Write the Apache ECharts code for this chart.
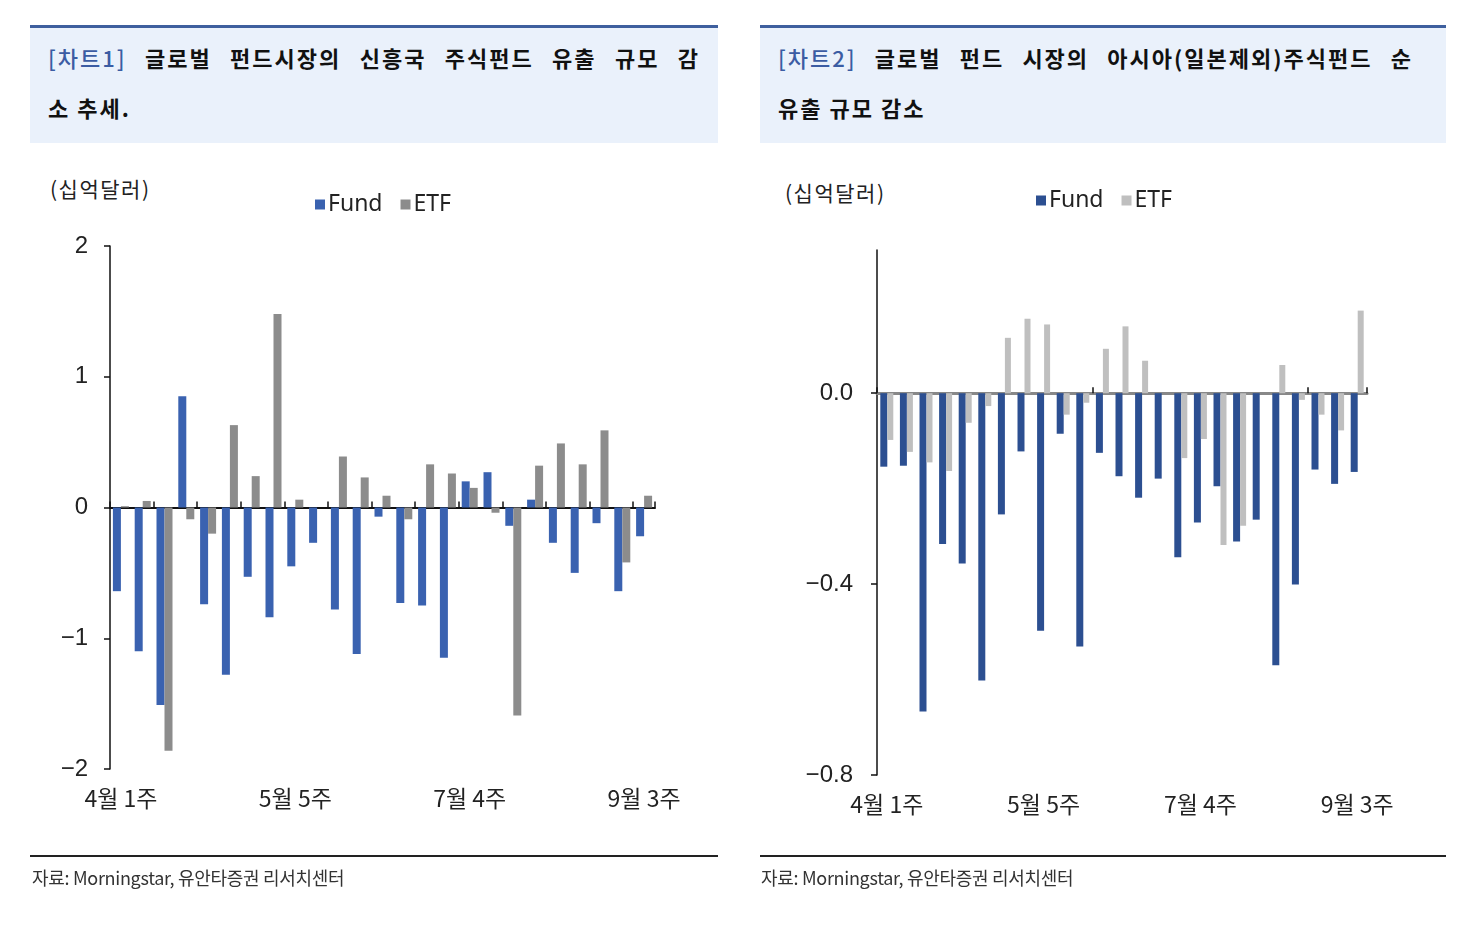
<!DOCTYPE html>
<html><head><meta charset="utf-8">
<script src="https://cdn.jsdelivr.net/npm/echarts@6/dist/echarts.min.js"></script>
<style>
html,body{margin:0;padding:0;background:#fff;width:1462px;height:925px;overflow:hidden;font-family:"Noto Sans CJK KR",sans-serif;}
.box{position:absolute;top:25px;height:118px;background:#eaf1fb;border-top:3px solid #3e5f9e;box-sizing:border-box;}
.ttl{position:absolute;font-size:22px;line-height:50px;color:#111;letter-spacing:2px;}
.ttl .l1{text-align:justify;text-align-last:justify;white-space:nowrap;}
.tag{color:#3b5ca3;font-weight:500;}
.ttl b{font-weight:bold;}
.rule{position:absolute;top:855px;height:2px;background:#222;}
.src{position:absolute;top:864px;font-size:18px;color:#333;letter-spacing:-0.3px;}
.unit{position:absolute;font-size:21px;color:#222;letter-spacing:1.5px;}
#c{position:absolute;left:0;top:0;width:1462px;height:925px;}
</style></head>
<body>
<div class="box" style="left:30px;width:688px;"></div>
<div class="box" style="left:760px;width:686px;"></div>
<div class="ttl" style="left:48px;top:32px;width:652px;">
  <div class="l1"><span class="tag">[차트1]</span> <b>글로벌 펀드시장의 신흥국 주식펀드 유출 규모 감</b></div>
  <div><b>소 추세.</b></div>
</div>
<div class="ttl" style="left:778px;top:32px;width:635px;">
  <div class="l1"><span class="tag">[차트2]</span> <b>글로벌 펀드 시장의 아시아(일본제외)주식펀드 순</b></div>
  <div><b>유출 규모 감소</b></div>
</div>
<div class="unit" style="left:50px;top:173px;">(십억달러)</div>
<div class="unit" style="left:785px;top:177px;">(십억달러)</div>
<div id="c"></div>
<div class="rule" style="left:30px;width:688px;"></div>
<div class="rule" style="left:760px;width:686px;"></div>
<div class="src" style="left:32px;">자료: Morningstar, 유안타증권 리서치센터</div>
<div class="src" style="left:761px;">자료: Morningstar, 유안타증권 리서치센터</div>
<script>
const weeks = ['4월 1주','4월 2주','4월 3주','4월 4주','5월 1주','5월 2주','5월 3주','5월 4주','5월 5주',
  '6월 1주','6월 2주','6월 3주','6월 4주','7월 1주','7월 2주','7월 3주','7월 4주','7월 5주',
  '8월 1주','8월 2주','8월 3주','8월 4주','9월 1주','9월 2주','9월 3주'];
// Chart 1: 신흥국 주식펀드 (십억달러)
const emFund = [-0.64,-1.10,-1.51,0.85,-0.74,-1.28,-0.53,-0.84,-0.45,-0.27,-0.78,-1.12,-0.07,
  -0.73,-0.75,-1.15,0.20,0.27,-0.14,0.06,-0.27,-0.50,-0.12,-0.64,-0.22];
const emETF = [0.01,0.05,-1.86,-0.09,-0.20,0.63,0.24,1.48,0.06,0.00,0.39,0.23,0.09,
  -0.09,0.33,0.26,0.15,-0.04,-1.59,0.32,0.49,0.33,0.59,-0.42,0.09];
// Chart 2: 아시아(일본제외) 주식펀드 (십억달러)
const asiaFund = [-0.154,-0.152,-0.667,-0.316,-0.357,-0.602,-0.254,-0.122,-0.498,-0.085,-0.531,
  -0.125,-0.174,-0.219,-0.179,-0.344,-0.271,-0.195,-0.311,-0.265,-0.570,-0.401,-0.160,-0.190,-0.165];
const asiaETF = [-0.098,-0.123,-0.145,-0.163,-0.062,-0.027,0.116,0.156,0.144,-0.045,-0.020,
  0.093,0.140,0.068,0.000,-0.136,-0.096,-0.318,-0.278,0.000,0.059,-0.014,-0.045,-0.078,0.173];
const yTicks1 = [-2,-1,0,1,2];
const yTicks2 = [-0.8,-0.4,0.0];

const C1F='#3a62b0', C1E='#8c8c8c', C2F='#2c4f91', C2E='#bfbfbf';
const FONT = '"Liberation Sans","Noto Sans CJK KR",sans-serif';
const minus = s => String(s).replace('-', '\u2212');

const chart = echarts.init(document.getElementById('c'));
function catAxis(grid){
  return {type:'category', gridIndex:grid, data:weeks, boundaryGap:true,
    axisLine:{show:false, onZero:false}, axisTick:{show:false},
    axisLabel:{show:true, interval:7, margin:18, fontSize:23, color:'#222', fontFamily:'"Noto Sans CJK KR",sans-serif'}};
}
function zeroAxis(grid, color, width, tickFn){
  return {type:'category', gridIndex:grid, data:weeks, boundaryGap:true,
    axisLine:{show:true, onZero:true, lineStyle:{color:color, width:width}},
    axisTick:{show:true, interval:tickFn, length:6, lineStyle:{color:'#111', width:1.5}},
    axisLabel:{show:false}};
}
chart.setOption({
  animation:false,
  textStyle:{fontFamily:FONT},
  grid:[
    {left:110, top:246, width:545, height:523},
    {left:877, top:250, width:490, height:525}
  ],
  xAxis:[
    catAxis(0), zeroAxis(0,'#111',2,1),
    catAxis(1), zeroAxis(1,'#888',3,10)
  ],
  yAxis:[
    {type:'value', gridIndex:0, min:-2, max:2, interval:1,
      axisLine:{show:true, lineStyle:{color:'#111', width:1.5}},
      axisTick:{show:true, length:6, customValues:yTicks1, lineStyle:{color:'#111', width:1.5}},
      splitLine:{show:false},
      axisLabel:{margin:22, fontSize:24, color:'#222', fontFamily:FONT, customValues:yTicks1, formatter:v=>minus(v)}},
    {type:'value', gridIndex:1, min:-0.8, max:0.3, interval:0.4,
      axisLine:{show:true, lineStyle:{color:'#111', width:1.5}},
      axisTick:{show:true, length:6, customValues:yTicks2, lineStyle:{color:'#111', width:1.5}},
      splitLine:{show:false},
      axisLabel:{margin:24, fontSize:24, color:'#222', fontFamily:FONT, customValues:yTicks2,
        formatter:v=> (v>0.05? '' : minus(Number(v).toFixed(1)))}}
  ],
  legend:[
    {left:310, top:188, itemWidth:10, itemHeight:10, itemGap:18, icon:'rect',
      textStyle:{fontSize:23, color:'#222', fontFamily:'"Noto Sans",sans-serif', padding:[0,0,0,-2]},
      data:[{name:'Fund', itemStyle:{color:C1F}}, {name:'ETF', itemStyle:{color:C1E}}]},
    {left:1031, top:184, itemWidth:10, itemHeight:10, itemGap:18, icon:'rect',
      textStyle:{fontSize:23, color:'#222', fontFamily:'"Noto Sans",sans-serif', padding:[0,0,0,-2]},
      data:[{name:'Fund', itemStyle:{color:C2F}}, {name:'ETF', itemStyle:{color:C2E}}]}
  ],
  series:[
    {name:'Fund', type:'bar', xAxisIndex:0, yAxisIndex:0, data:emFund, barWidth:8, barGap:'0%', itemStyle:{color:C1F}},
    {name:'ETF', type:'bar', xAxisIndex:0, yAxisIndex:0, data:emETF, barWidth:8, barGap:'0%', itemStyle:{color:C1E}},
    {name:'Fund', type:'bar', xAxisIndex:2, yAxisIndex:1, data:asiaFund, barWidth:7, barGap:'0%', itemStyle:{color:C2F}},
    {name:'ETF', type:'bar', xAxisIndex:2, yAxisIndex:1, data:asiaETF, barWidth:6, barGap:'0%', itemStyle:{color:C2E}}
  ]
});
</script>
</body></html>
